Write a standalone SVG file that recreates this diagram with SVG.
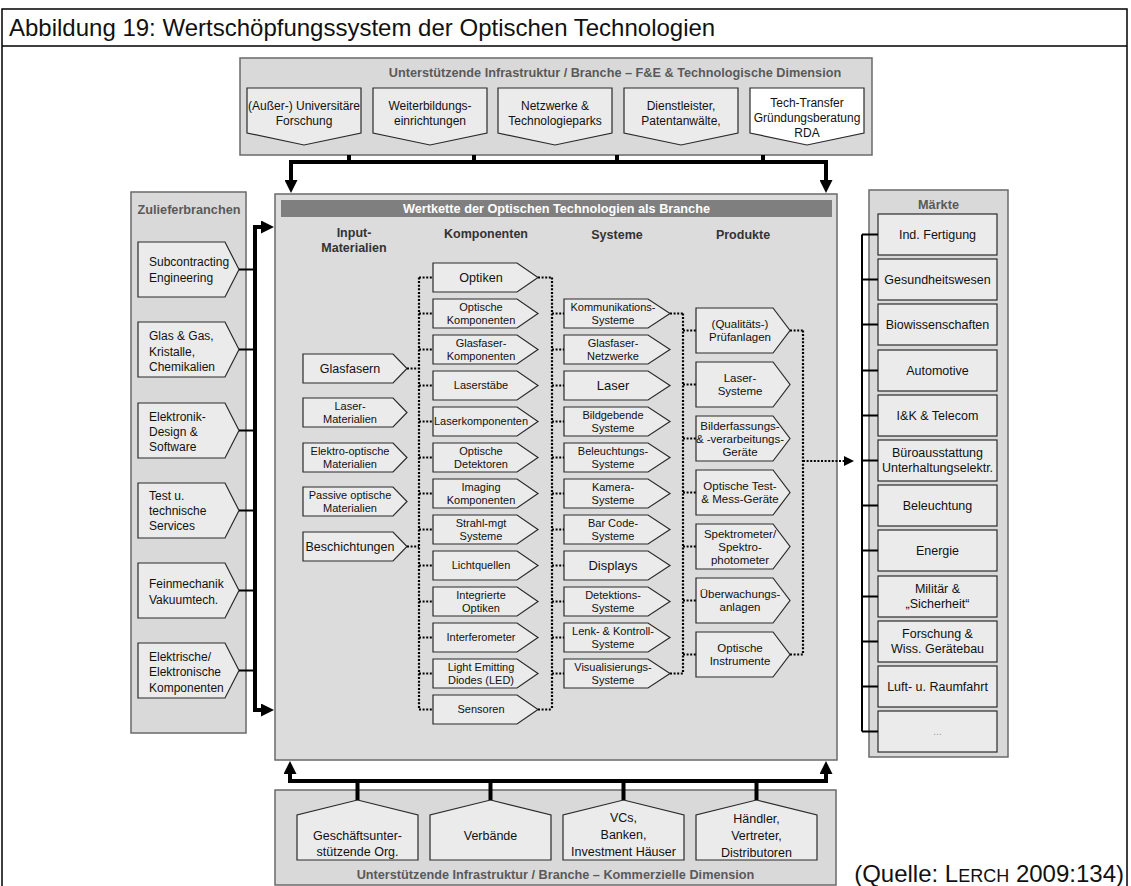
<svg xmlns="http://www.w3.org/2000/svg" xmlns:xlink="http://www.w3.org/1999/xlink" width="1131" height="886" viewBox="0 0 1131 886">
<style>
text{font-family:"Liberation Sans",Arial,Helvetica,sans-serif;fill:#111}
.c{text-anchor:middle}
.panel{fill:#d9d9d9;stroke:#6a6a6a;stroke-width:1.5}
.box{fill:#ebebeb;stroke:#2a2a2a;stroke-width:1.2}
.wbox{fill:#fff;stroke:#2a2a2a;stroke-width:1.2}
.hd{font-weight:bold;fill:#595959;font-size:12.7px}
.col{font-weight:bold;fill:#333;font-size:12.5px}
.f11{font-size:11px}
.f115{font-size:11.5px}
.f12{font-size:12px}
.f125{font-size:12.5px}
.f13{font-size:13px}
.thick{fill:none;stroke:#000;stroke-width:4}
.thin{fill:none;stroke:#000;stroke-width:2}
.dot{fill:none;stroke:#000;stroke-width:2.2;stroke-dasharray:2 1.6}
</style>
<defs>
  <marker id="ah" viewBox="0 0 10 10" refX="0" refY="5" markerWidth="14" markerHeight="13" markerUnits="userSpaceOnUse" orient="auto-start-reverse">
    <path d="M0,0L10,5L0,10Z" fill="#000"/>
  </marker>
  <marker id="ahs" viewBox="0 0 10 10" refX="0" refY="5" markerWidth="11" markerHeight="10" markerUnits="userSpaceOnUse" orient="auto">
    <path d="M0,0L10,5L0,10Z" fill="#000"/>
  </marker>
  <!-- pentagon shapes per column -->
  <path id="pz" d="M0,0H87L101,27.5L87,55H0Z"/>
  <path id="pi" d="M0,0H90L104,14.5L90,29H0Z"/>
  <path id="pk" d="M0,0H84L105,14.5L84,29H0Z"/>
  <path id="ps" d="M0,0H84L106,14.5L84,29H0Z"/>
  <path id="pp" d="M0,0H77L94,22.5L77,45H0Z"/>
  <path id="pt" d="M0,0H114V45L57,57L0,45Z"/>
  <path id="pb" d="M60.5,0L121,15V60H0V15Z"/>
</defs>

<!-- page frame and caption -->
<rect x="2" y="9" width="1125" height="890" fill="#fff" stroke="#000" stroke-width="1.5"/>
<line x1="2" y1="46" x2="1127" y2="46" stroke="#000" stroke-width="1.5"/>
<text x="9" y="36" font-size="24">Abbildung 19: Wertschöpfungssystem der Optischen Technologien</text>

<!-- R&D infrastructure (top) -->
<g id="infra-fe">
  <rect class="panel" x="240" y="58" width="632" height="97"/>
  <text class="hd c" x="615" y="77">Unterstützende Infrastruktur / Branche – F&amp;E &amp; Technologische Dimension</text>
  <g id="fe1"><use href="#pt" class="box" x="247" y="88"/>
    <text class="c f12" x="304" y="110">(Außer-) Universitäre</text><text class="c f12" x="304" y="125">Forschung</text></g>
  <g id="fe2"><use href="#pt" class="box" x="373" y="88"/>
    <text class="c f12" x="430" y="110">Weiterbildungs-</text><text class="c f12" x="430" y="125">einrichtungen</text></g>
  <g id="fe3"><use href="#pt" class="box" x="498" y="88"/>
    <text class="c f12" x="555" y="110">Netzwerke &amp;</text><text class="c f12" x="555" y="125">Technologieparks</text></g>
  <g id="fe4"><use href="#pt" class="box" x="624" y="88"/>
    <text class="c f12" x="681" y="110">Dienstleister,</text><text class="c f12" x="681" y="125">Patentanwälte,</text></g>
  <g id="fe5"><use href="#pt" class="wbox" x="750" y="88"/>
    <text class="c f12" x="807" y="107">Tech-Transfer</text><text class="c f12" x="807" y="122">Gründungsberatung</text><text class="c f12" x="807" y="137">RDA</text></g>
</g>

<!-- supplier industries (left) -->
<g id="zulieferer">
  <rect class="panel" x="131" y="192" width="115" height="541"/>
  <text class="hd c" x="189" y="214">Zulieferbranchen</text>
  <g id="z1"><use href="#pz" class="box" x="138" y="242"/>
    <text class="f12" x="149" y="266">Subcontracting</text><text class="f12" x="149" y="282">Engineering</text></g>
  <g id="z2"><use href="#pz" class="box" x="138" y="322"/>
    <text class="f12" x="149" y="340">Glas &amp; Gas,</text><text class="f12" x="149" y="356">Kristalle,</text><text class="f12" x="149" y="371">Chemikalien</text></g>
  <g id="z3"><use href="#pz" class="box" x="138" y="403"/>
    <text class="f12" x="149" y="421">Elektronik-</text><text class="f12" x="149" y="436">Design &amp;</text><text class="f12" x="149" y="451">Software</text></g>
  <g id="z4"><use href="#pz" class="box" x="138" y="483"/>
    <text class="f12" x="149" y="500">Test u.</text><text class="f12" x="149" y="515">technische</text><text class="f12" x="149" y="530">Services</text></g>
  <g id="z5"><use href="#pz" class="box" x="138" y="563"/>
    <text class="f12" x="149" y="588">Feinmechanik</text><text class="f12" x="149" y="604">Vakuumtech.</text></g>
  <g id="z6"><use href="#pz" class="box" x="138" y="643"/>
    <text class="f12" x="149" y="661">Elektrische/</text><text class="f12" x="149" y="676">Elektronische</text><text class="f12" x="149" y="692">Komponenten</text></g>
</g>

<!-- value chain (centre) -->
<g id="wertkette">
  <rect class="panel" x="275" y="194" width="562" height="566" style="fill:#dcdcdc"/>
  <rect x="281" y="200" width="551" height="17" fill="#7f7f7f"/>
  <text class="c" x="556.5" y="213" font-size="12.7" font-weight="bold" style="fill:#fff">Wertkette der Optischen Technologien als Branche</text>
  <text class="col c" x="354" y="237">Input-</text>
  <text class="col c" x="354" y="252">Materialien</text>
  <text class="col c" x="486" y="238">Komponenten</text>
  <text class="col c" x="617" y="239">Systeme</text>
  <text class="col c" x="743" y="239">Produkte</text>
</g>

<g id="input">
  <g id="i1"><use href="#pi" class="box" x="303" y="354"/><text class="c f125" x="350" y="373">Glasfasern</text></g>
  <g id="i2"><use href="#pi" class="box" x="303" y="398"/><text class="c f11" x="350" y="410">Laser-</text><text class="c f11" x="350" y="423">Materialien</text></g>
  <g id="i3"><use href="#pi" class="box" x="303" y="443"/><text class="c f11" x="350" y="455">Elektro-optische</text><text class="c f11" x="350" y="468">Materialien</text></g>
  <g id="i4"><use href="#pi" class="box" x="303" y="487"/><text class="c f11" x="350" y="499">Passive optische</text><text class="c f11" x="350" y="512">Materialien</text></g>
  <g id="i5"><use href="#pi" class="box" x="303" y="532"/><text class="c f125" x="350" y="551">Beschichtungen</text></g>
</g>

<g id="komponenten">
  <g id="k1"><use href="#pk" class="box" x="433" y="263"/><text class="c" font-size="12.6" x="481" y="282">Optiken</text></g>
  <g id="k2"><use href="#pk" class="box" x="433" y="299"/><text class="c f11" x="481" y="311">Optische</text><text class="c f11" x="481" y="324">Komponenten</text></g>
  <g id="k3"><use href="#pk" class="box" x="433" y="335"/><text class="c f11" x="481" y="347">Glasfaser-</text><text class="c f11" x="481" y="360">Komponenten</text></g>
  <g id="k4"><use href="#pk" class="box" x="433" y="371"/><text class="c f11" x="481" y="389">Laserstäbe</text></g>
  <g id="k5"><use href="#pk" class="box" x="433" y="407"/><text class="c f11" x="481" y="425">Laserkomponenten</text></g>
  <g id="k6"><use href="#pk" class="box" x="433" y="443"/><text class="c f11" x="481" y="455">Optische</text><text class="c f11" x="481" y="468">Detektoren</text></g>
  <g id="k7"><use href="#pk" class="box" x="433" y="479"/><text class="c f11" x="481" y="491">Imaging</text><text class="c f11" x="481" y="504">Komponenten</text></g>
  <g id="k8"><use href="#pk" class="box" x="433" y="515"/><text class="c f11" x="481" y="527">Strahl-mgt</text><text class="c f11" x="481" y="540">Systeme</text></g>
  <g id="k9"><use href="#pk" class="box" x="433" y="551"/><text class="c f11" x="481" y="569">Lichtquellen</text></g>
  <g id="k10"><use href="#pk" class="box" x="433" y="587"/><text class="c f11" x="481" y="599">Integrierte</text><text class="c f11" x="481" y="612">Optiken</text></g>
  <g id="k11"><use href="#pk" class="box" x="433" y="623"/><text class="c f11" x="481" y="641">Interferometer</text></g>
  <g id="k12"><use href="#pk" class="box" x="433" y="659"/><text class="c f11" x="481" y="671">Light Emitting</text><text class="c f11" x="481" y="684">Diodes (LED)</text></g>
  <g id="k13"><use href="#pk" class="box" x="433" y="695"/><text class="c f11" x="481" y="713">Sensoren</text></g>
</g>

<g id="systeme">
  <g id="s1"><use href="#ps" class="box" x="564" y="299"/><text class="c f11" x="613" y="311">Kommunikations-</text><text class="c f11" x="613" y="324">Systeme</text></g>
  <g id="s2"><use href="#ps" class="box" x="564" y="335"/><text class="c f11" x="613" y="347">Glasfaser-</text><text class="c f11" x="613" y="360">Netzwerke</text></g>
  <g id="s3"><use href="#ps" class="box" x="564" y="371"/><text class="c f13" x="613" y="390">Laser</text></g>
  <g id="s4"><use href="#ps" class="box" x="564" y="407"/><text class="c f11" x="613" y="419">Bildgebende</text><text class="c f11" x="613" y="432">Systeme</text></g>
  <g id="s5"><use href="#ps" class="box" x="564" y="443"/><text class="c f11" x="613" y="455">Beleuchtungs-</text><text class="c f11" x="613" y="468">Systeme</text></g>
  <g id="s6"><use href="#ps" class="box" x="564" y="479"/><text class="c f11" x="613" y="491">Kamera-</text><text class="c f11" x="613" y="504">Systeme</text></g>
  <g id="s7"><use href="#ps" class="box" x="564" y="515"/><text class="c f11" x="613" y="527">Bar Code-</text><text class="c f11" x="613" y="540">Systeme</text></g>
  <g id="s8"><use href="#ps" class="box" x="564" y="551"/><text class="c f13" x="613" y="570">Displays</text></g>
  <g id="s9"><use href="#ps" class="box" x="564" y="587"/><text class="c f11" x="613" y="599">Detektions-</text><text class="c f11" x="613" y="612">Systeme</text></g>
  <g id="s10"><use href="#ps" class="box" x="564" y="623"/><text class="c f11" x="613" y="635">Lenk- &amp; Kontroll-</text><text class="c f11" x="613" y="648">Systeme</text></g>
  <g id="s11"><use href="#ps" class="box" x="564" y="659"/><text class="c f11" x="613" y="671">Visualisierungs-</text><text class="c f11" x="613" y="684">Systeme</text></g>
</g>

<g id="produkte">
  <g id="p1"><use href="#pp" class="box" x="696" y="308"/><text class="c f115" x="740" y="328">(Qualitäts-)</text><text class="c f115" x="740" y="341">Prüfanlagen</text></g>
  <g id="p2"><use href="#pp" class="box" x="696" y="362"/><text class="c f115" x="740" y="382">Laser-</text><text class="c f115" x="740" y="395">Systeme</text></g>
  <g id="p3"><use href="#pp" class="box" x="696" y="416"/><text class="c f115" x="740" y="430">Bilderfassungs-</text><text class="c f115" x="740" y="443">&amp; -verarbeitungs-</text><text class="c f115" x="740" y="456">Geräte</text></g>
  <g id="p4"><use href="#pp" class="box" x="696" y="470"/><text class="c f115" x="740" y="490">Optische Test-</text><text class="c f115" x="740" y="503">&amp; Mess-Geräte</text></g>
  <g id="p5"><use href="#pp" class="box" x="696" y="524"/><text class="c f115" x="740" y="538">Spektrometer/</text><text class="c f115" x="740" y="551">Spektro-</text><text class="c f115" x="740" y="564">photometer</text></g>
  <g id="p6"><use href="#pp" class="box" x="696" y="578"/><text class="c f115" x="740" y="598">Überwachungs-</text><text class="c f115" x="740" y="611">anlagen</text></g>
  <g id="p7"><use href="#pp" class="box" x="696" y="632"/><text class="c f115" x="740" y="652">Optische</text><text class="c f115" x="740" y="665">Instrumente</text></g>
</g>

<!-- markets (right) -->
<g id="maerkte">
  <rect class="panel" x="869" y="190" width="139" height="567"/>
  <text class="hd c" x="938.5" y="209">Märkte</text>
  <g id="m1"><rect class="box" x="878" y="214" width="119" height="41"/><text class="c f125" x="937.5" y="239">Ind. Fertigung</text></g>
  <g id="m2"><rect class="box" x="878" y="259" width="119" height="41"/><text class="c f125" x="937.5" y="284">Gesundheitswesen</text></g>
  <g id="m3"><rect class="box" x="878" y="304" width="119" height="41"/><text class="c f125" x="937.5" y="329">Biowissenschaften</text></g>
  <g id="m4"><rect class="box" x="878" y="350" width="119" height="41"/><text class="c f125" x="937.5" y="375">Automotive</text></g>
  <g id="m5"><rect class="box" x="878" y="395" width="119" height="41"/><text class="c f125" x="937.5" y="420">I&amp;K &amp; Telecom</text></g>
  <g id="m6"><rect class="box" x="878" y="440" width="119" height="41"/><text class="c f125" x="937.5" y="457">Büroausstattung</text><text class="c f125" x="937.5" y="472">Unterhaltungselektr.</text></g>
  <g id="m7"><rect class="box" x="878" y="485" width="119" height="41"/><text class="c f125" x="937.5" y="510">Beleuchtung</text></g>
  <g id="m8"><rect class="box" x="878" y="530" width="119" height="41"/><text class="c f125" x="937.5" y="555">Energie</text></g>
  <g id="m9"><rect class="box" x="878" y="576" width="119" height="41"/><text class="c f125" x="937.5" y="593">Militär &amp;</text><text class="c f125" x="937.5" y="608">„Sicherheit“</text></g>
  <g id="m10"><rect class="box" x="878" y="621" width="119" height="41"/><text class="c f125" x="937.5" y="638">Forschung &amp;</text><text class="c f125" x="937.5" y="653">Wiss. Gerätebau</text></g>
  <g id="m11"><rect class="box" x="878" y="666" width="119" height="41"/><text class="c f125" x="937.5" y="691">Luft- u. Raumfahrt</text></g>
  <g id="m12"><rect class="box" x="878" y="711" width="119" height="41"/><text class="c" font-size="10" style="fill:#999" x="937.5" y="735">...</text></g>
</g>

<!-- commercial infrastructure (bottom) -->
<g id="infra-kommerz">
  <rect class="panel" x="275" y="790" width="561" height="95"/>
  <g id="b1"><use href="#pb" class="box" x="297" y="800"/>
    <text class="c f125" x="357.5" y="840">Geschäftsunter-</text><text class="c f125" x="357.5" y="856">stützende Org.</text></g>
  <g id="b2"><use href="#pb" class="box" x="430" y="800"/>
    <text class="c f125" x="490.5" y="840">Verbände</text></g>
  <g id="b3"><use href="#pb" class="box" x="563" y="800"/>
    <text class="c f125" x="623.5" y="822">VCs,</text><text class="c f125" x="623.5" y="839">Banken,</text><text class="c f125" x="623.5" y="856">Investment Häuser</text></g>
  <g id="b4"><use href="#pb" class="box" x="696" y="800"/>
    <text class="c f125" x="756.5" y="823">Händler,</text><text class="c f125" x="756.5" y="840">Vertreter,</text><text class="c f125" x="756.5" y="857">Distributoren</text></g>
  <text class="hd c" x="555.5" y="879">Unterstützende Infrastruktur / Branche – Kommerzielle Dimension</text>
</g>

<!-- connectors -->
<g id="connectors">
  <!-- top and bottom feeds into the value chain -->
  <path class="thick" d="M349,155V162M474,155V162M617,155V162M763,155V162"/>
  <path class="thick" d="M291,180V162H826V180" marker-start="url(#ah)" marker-end="url(#ah)"/>
  <path class="thick" d="M357.5,800V781M490.5,800V781M623.5,800V781M756.5,800V781"/>
  <path class="thick" d="M290,774V781H826V774" marker-start="url(#ah)" marker-end="url(#ah)"/>
  <!-- suppliers -->
  <path class="thin" d="M239,269.5H255M239,349.5H255M239,430.5H255M239,510.5H255M239,590.5H255M239,670.5H255"/>
  <path class="thick" d="M261,227H255V710H261" marker-start="url(#ah)" marker-end="url(#ah)"/>
  <!-- inputs to components -->
  <path class="dot" d="M419,277.5V709.5M407,368.5H419M407,546.5H419"/>
  <path class="dot" d="M419,277.5H433M419,313.5H433M419,349.5H433M419,385.5H433M419,421.5H433M419,457.5H433M419,493.5H433M419,529.5H433M419,565.5H433M419,601.5H433M419,637.5H433M419,673.5H433M419,709.5H433"/>
  <!-- components to systems -->
  <path class="dot" d="M552,277.5V709.5M538,277.5H552M538,709.5H552"/>
  <path class="dot" d="M552,313.5H564M552,349.5H564M552,385.5H564M552,421.5H564M552,457.5H564M552,493.5H564M552,529.5H564M552,565.5H564M552,601.5H564M552,637.5H564M552,673.5H564"/>
  <!-- systems to products -->
  <path class="dot" d="M683,313.5V673.5M670,313.5H683M670,673.5H683"/>
  <path class="dot" d="M683,330.5H696M683,384.5H696M683,438.5H696M683,492.5H696M683,546.5H696M683,600.5H696M683,654.5H696"/>
  <!-- products to markets -->
  <path class="dot" d="M803,330.5V654.5M790,330.5H803M790,654.5H803"/>
  <path class="dot" d="M803,461H844" marker-end="url(#ahs)"/>
  <path class="thin" d="M862,234.5V731.5M862,234.5H878M862,279.5H878M862,324.5H878M862,370.5H878M862,415.5H878M862,460.5H878M862,505.5H878M862,550.5H878M862,596.5H878M862,641.5H878M862,686.5H878M862,731.5H878"/>
</g>

<text x="1124" y="882" font-size="24" text-anchor="end">(Quelle: L<tspan font-size="18">ERCH</tspan> 2009:134)</text>
</svg>
